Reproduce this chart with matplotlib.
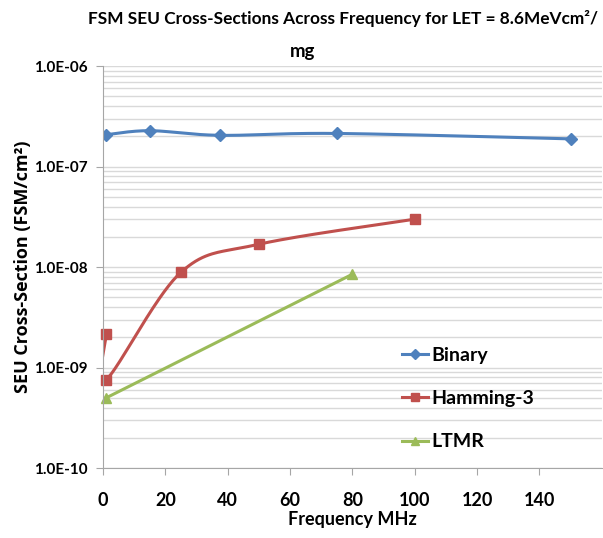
import numpy as np
import matplotlib
matplotlib.use('Agg')
import matplotlib.pyplot as plt
from matplotlib.ticker import LogLocator, FixedLocator, FuncFormatter

plt.rcParams['font.family'] = ['Lato', 'DejaVu Sans']

# data
binary_x = [1, 15, 37.5, 75, 150]
binary_y = [2.08e-7, 2.28e-7, 2.05e-7, 2.14e-7, 1.89e-7]
hamming_x = [1, 1, 25, 50, 100]
hamming_y = [2.16e-9, 7.6e-10, 8.9e-9, 1.69e-8, 3.0e-8]
ltmr_x = [1, 80]
ltmr_y = [5.0e-10, 8.5e-9]
series_names = ['Binary', 'Hamming-3', 'LTMR']
x_ticks = [0, 20, 40, 60, 80, 100, 120, 140]

X_MIN, X_MAX = 0, 160
Y_MIN, Y_MAX = 1e-10, 1e-6

fig = plt.figure(figsize=(6.03, 5.38), dpi=100)
ax = fig.add_axes([0.171, 0.130, 0.827, 0.747])
ax.set_xlim(X_MIN, X_MAX)
ax.set_yscale('log')
ax.set_ylim(Y_MIN, Y_MAX)

# axes size in pixels, used to smooth curves like Excel does (in screen space)
W_PX = 0.827 * 603
H_PX = 0.747 * 538


def to_px(x, y):
    u = (np.asarray(x, float) - X_MIN) / (X_MAX - X_MIN) * W_PX
    v = (np.log10(y) - np.log10(Y_MIN)) / (np.log10(Y_MAX) - np.log10(Y_MIN)) * H_PX
    return u, v


def from_px(u, v):
    x = u / W_PX * (X_MAX - X_MIN) + X_MIN
    y = 10 ** (v / H_PX * (np.log10(Y_MAX) - np.log10(Y_MIN)) + np.log10(Y_MIN))
    return x, y


def smooth(xs, ys, n=40):
    u, v = to_px(xs, ys)
    pts = np.column_stack([u, v])
    out = []
    for i in range(len(pts) - 1):
        p0 = pts[max(i - 1, 0)]
        p1 = pts[i]
        p2 = pts[i + 1]
        p3 = pts[min(i + 2, len(pts) - 1)]
        c1 = p1 + (p2 - p0) / 6.0
        c2 = p2 - (p3 - p1) / 6.0
        t = np.linspace(0, 1, n)[:, None]
        seg = ((1 - t) ** 3) * p1 + 3 * ((1 - t) ** 2) * t * c1 + 3 * (1 - t) * t ** 2 * c2 + t ** 3 * p2
        out.append(seg if i == 0 else seg[1:])
    out = np.vstack(out)
    return from_px(out[:, 0], out[:, 1])


blue = '#4F81BD'
red = '#C0504D'
green = '#9BBB59'

# gridlines
ax.yaxis.set_major_locator(LogLocator(base=10, numticks=10))
ax.yaxis.set_minor_locator(LogLocator(base=10, subs=np.arange(2, 10), numticks=20))
ax.grid(True, which='both', axis='y', color='#D9D9D9', lw=1.0)
ax.set_axisbelow(True)

sx, sy = smooth(binary_x, binary_y)
ax.plot(sx, sy, color=blue, lw=2.2)
ax.plot(binary_x, binary_y, ls='none', marker='D', ms=6, color=blue)

sx, sy = smooth(hamming_x, hamming_y)
ax.plot(sx, sy, color=red, lw=2.2)
ax.plot(hamming_x, hamming_y, ls='none', marker='s', ms=7, color=red, clip_on=False)

ax.plot(ltmr_x, ltmr_y, color=green, lw=2.2)
ax.plot(ltmr_x, ltmr_y, ls='none', marker='^', ms=7, color=green, clip_on=False)

# legend handles
h1, = ax.plot([], [], color=blue, lw=2.2, marker='D', ms=5)
h2, = ax.plot([], [], color=red, lw=2.2, marker='s', ms=6)
h3, = ax.plot([], [], color=green, lw=2.2, marker='^', ms=6)
ax.legend([h1, h2, h3], series_names, loc='upper left', bbox_to_anchor=(0.565, 0.345),
          frameon=False, handlelength=1.3, handletextpad=0.2, labelspacing=1.35,
          prop={'weight': 'bold', 'size': 14})

ax.xaxis.set_major_locator(FixedLocator(x_ticks))
ax.yaxis.set_major_formatter(FuncFormatter(lambda v, p: '%.1E' % v))
ax.yaxis.set_minor_formatter(FuncFormatter(lambda v, p: ''))
ax.tick_params(axis='x', labelsize=13, length=5, color='#A6A6A6', pad=12)
ax.tick_params(axis='y', which='major', labelsize=11, length=5, color='#A6A6A6', pad=6)
ax.tick_params(axis='y', which='minor', length=0)
plt.setp(ax.get_xticklabels(), fontweight='bold')
plt.setp(ax.get_yticklabels(), fontweight='bold')

for s in ['top', 'right']:
    ax.spines[s].set_visible(False)
for s in ['left', 'bottom']:
    ax.spines[s].set_color('#A6A6A6')

ax.set_xlabel('Frequency MHz', fontsize=13, fontweight='bold', labelpad=2)
ax.set_ylabel('SEU Cross-Section (FSM/cm²)', fontsize=13, fontweight='bold',
              family=['Open Sans', 'DejaVu Sans'])
ax.yaxis.set_label_coords(-0.142, 0.5)

# title, first line sized to span the same width as in the chart
t1 = fig.text(0.146, 0.965, 'FSM SEU Cross-Sections Across Frequency for LET = 8.6MeVcm²/',
              fontsize=14, fontweight='bold', ha='left', va='center')
renderer = fig.canvas.get_renderer()
w = t1.get_window_extent(renderer).width
fs = 14 * 512.0 / w
t1.set_fontsize(fs)
fig.text(0.501, 0.905, 'mg', fontsize=fs + 1, fontweight='bold', ha='center', va='center')

fig.savefig('out.png', dpi=100)
